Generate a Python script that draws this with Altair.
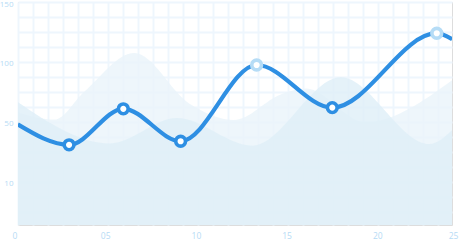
import altair as alt
import numpy as np
import pandas as pd

# ---- data ----
line_x = [0.15, 2.98, 5.97, 9.13, 13.32, 17.49, 23.25, 24.1]
line_y = [48, 31, 61, 34, 97.5, 62, 124, 119]
line_marker = ["none", "dark", "dark", "dark", "light", "dark", "light", "none"]

back_x = [0.15, 2.18, 3.80, 6.58, 9.64, 12.07, 14.71, 16.05, 19.31, 24.1]
back_y = [58, 52, 75, 107.5, 65, 51.7, 73.3, 78, 50, 85]

front_x = [0.15, 5.24, 8.93, 13.08, 17.96, 22.85, 24.1]
front_y = [66.7, 32.2, 53.3, 30.3, 87.4, 31.7, 43.3]

x_tick_values = [0, 5, 10, 15, 20, 25]
x_tick_labels = ["0", "05", "10", "15", "20", "25"]
y_tick_values = [0, 50, 100, 150]
y_tick_labels = ["10", "50", "100", "150"]

# ---- styling ----
Y_MIN, Y_MAX = -35.8, 150
X_MIN, X_MAX = 0.165, 24.09
PLOT_W, PLOT_H = 434, 223
LABEL_COLOR = "#b6dbf5"
GRID_COLOR = "#eef6fd"
LINE_COLOR = "#2e8fe3"
LIGHT_MARK = "#b5dcf6"
FONT = "Open Sans"

px_per_unit = PLOT_W / (X_MAX - X_MIN)
grid_x = [float(v) for v in np.arange(X_MIN, X_MAX + 1e-6, 15 / px_per_unit)]
grid_y = [float(v) for v in np.arange(Y_MAX, Y_MIN - 1e-6, -12.5)]

# label scale: same slope as the data scale, last label kept inside the page
LABEL_RIGHT_PX = PLOT_W + 1.5
lab_lo = 0
lab_hi = X_MIN + (LABEL_RIGHT_PX) / px_per_unit
lab_range = [(lab_lo - X_MIN) * px_per_unit, LABEL_RIGHT_PX]


def label_expr(values, labels):
    expr = "''"
    for v, lab in reversed(list(zip(values, labels))):
        expr = f"abs(datum.value - {v}) < 0.01 ? '{lab}' : ({expr})"
    return expr


line_df = pd.DataFrame({"x": line_x, "y": line_y, "marker": line_marker})
back_df = pd.DataFrame({"x": back_x, "y": back_y})
front_df = pd.DataFrame({"x": front_x, "y": front_y})
xlab_df = pd.DataFrame({"x": x_tick_values, "label": x_tick_labels})

xscale = alt.Scale(domain=[X_MIN, X_MAX], nice=False, zero=False)
yscale = alt.Scale(domain=[Y_MIN, Y_MAX], nice=False, zero=False)
labscale = alt.Scale(domain=[lab_lo, lab_hi], range=lab_range, nice=False,
                     zero=False, clamp=True)

y_axis = alt.Axis(
    values=grid_y, labelExpr=label_expr(y_tick_values, y_tick_labels),
    ticks=False, domain=False, grid=True, gridColor=GRID_COLOR, gridWidth=2,
    labelColor=LABEL_COLOR, labelFont=FONT, labelFontSize=8, labelPadding=5,
    labelOffset={"condition": {"test": f"datum.value >= {Y_MAX - 1}", "value": 2.5},
                 "value": 1},
    title=None)

Y = alt.Y("y:Q", scale=yscale, axis=y_axis)

back = alt.Chart(back_df).mark_area(
    interpolate="monotone", color="#eaf4fa", opacity=0.8, clip=True
).encode(
    x=alt.X("x:Q", scale=xscale, axis=alt.Axis(
        orient="top", values=grid_x, labels=False, ticks=False, domain=False,
        grid=True, gridColor=GRID_COLOR, gridWidth=2, title=None)),
    y=Y,
    y2=alt.datum(Y_MIN),
)

front = alt.Chart(front_df).mark_area(
    interpolate="monotone", color="#deeff7", opacity=0.8, clip=True
).encode(
    x=alt.X("x:Q", scale=xscale, axis=None),
    y=Y,
    y2=alt.datum(Y_MIN),
)

line = alt.Chart(line_df).mark_line(
    interpolate="monotone", color=LINE_COLOR, strokeWidth=4.2, clip=True
).encode(
    x=alt.X("x:Q", scale=xscale, axis=None),
    y=Y,
)

points = alt.Chart(line_df).transform_filter(
    alt.datum.marker != "none"
).mark_circle(
    fill="white", opacity=1, fillOpacity=1, strokeWidth=3.6, size=95
).encode(
    x=alt.X("x:Q", scale=xscale, axis=None),
    y=Y,
    stroke=alt.Stroke("marker:N", scale=alt.Scale(
        domain=["dark", "light"], range=[LINE_COLOR, LIGHT_MARK]), legend=None),
)

xlabels = alt.Chart(xlab_df).mark_text(
    font=FONT, fontSize=8.5, color=LABEL_COLOR, baseline="middle",
    align="center", clip=False
).encode(
    x=alt.X("x:Q", scale=labscale, axis=None),
    y=alt.value(PLOT_H + 11),
    text="label:N",
)

chart = alt.layer(back, front, line, points, xlabels).resolve_scale(
    x="independent"
).resolve_axis(
    x="independent"
).properties(
    width=PLOT_W,
    height=PLOT_H,
    autosize=alt.AutoSizeParams(type="none"),
    padding={"left": 18, "top": 2, "right": 8, "bottom": 15},
).configure_view(stroke=None).configure(background="white")

chart.save("out.html", embed_options={"renderer": "svg", "actions": False})
